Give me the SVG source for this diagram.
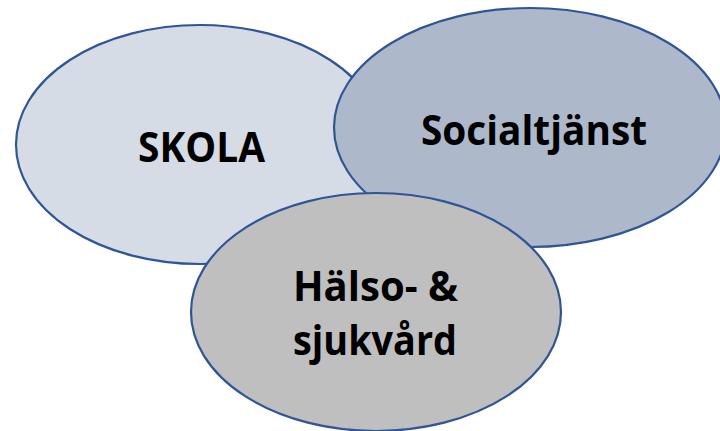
<svg xmlns="http://www.w3.org/2000/svg" width="720" height="431" viewBox="0 0 720 431">
<style>
.e{stroke:#2F5597;stroke-width:2.2}
.t{font-family:"Open Sans","Noto Sans","Liberation Sans",sans-serif;font-weight:bold;font-size:42px;fill:#000;text-anchor:middle}
</style>
<rect width="720" height="431" fill="#fff"/>
<g id="skola">
<ellipse class="e" cx="200" cy="144.5" rx="184" ry="119.5" fill="#D6DCE5"/>
<text class="t" x="201.5" y="162" textLength="127" lengthAdjust="spacingAndGlyphs">SKOLA</text>
</g>
<g id="socialtjanst">
<ellipse class="e" cx="530" cy="127.5" rx="196" ry="119.5" fill="#ADB9CA"/>
<text class="t" x="534" y="145" textLength="226" lengthAdjust="spacingAndGlyphs">Socialtjänst</text>
</g>
<g id="halso">
<ellipse class="e" cx="376" cy="312" rx="185" ry="119" fill="#BFBFBF"/>
<text class="t" x="375.5" y="301" textLength="165" lengthAdjust="spacingAndGlyphs">Hälso- &amp;</text>
<text class="t" x="375" y="355" textLength="164" lengthAdjust="spacingAndGlyphs">sjukvård</text>
</g>
<g id="connectors"/>
</svg>
